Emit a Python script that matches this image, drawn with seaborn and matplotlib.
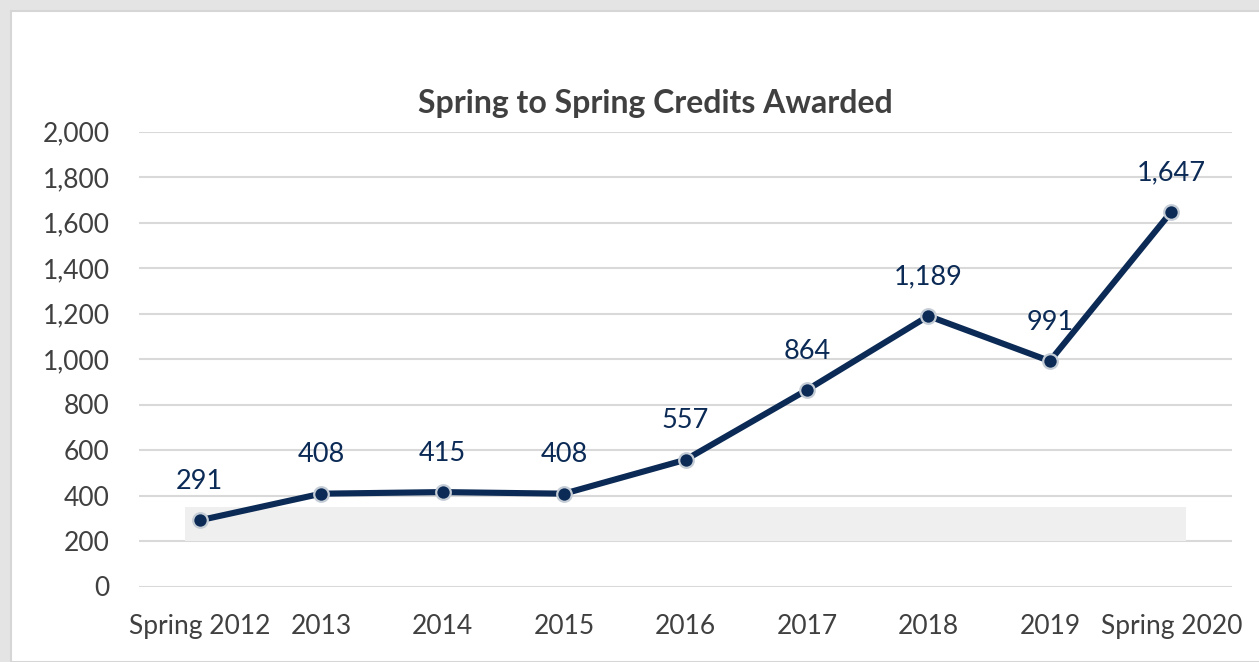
import matplotlib
matplotlib.use("Agg")
import matplotlib.pyplot as plt
import seaborn as sns
import pandas as pd
from matplotlib.patches import Rectangle

# chart values
years = ["Spring 2012", "2013", "2014", "2015", "2016", "2017", "2018", "2019", "Spring 2020"]
credits = [291, 408, 415, 408, 557, 864, 1189, 991, 1647]
y_ticks = [0, 200, 400, 600, 800, 1000, 1200, 1400, 1600, 1800, 2000]

df = pd.DataFrame({"year": years, "credits": credits})

sns.set_theme(style="white")
plt.rcParams["font.family"] = ["Lato", "DejaVu Sans"]

navy = "#0b2a55"
grey_txt = "#404040"

fig = plt.figure(figsize=(12.59, 6.62), dpi=100)
fig.patch.set_facecolor("#e4e4e4")
# white chart card with a light shadow edge
fig.patches.append(Rectangle((11 / 1259, 0), 1, 1 - 11 / 662, transform=fig.transFigure,
                             facecolor="white", edgecolor="#d6d6d6", lw=1.5, zorder=-5))

ax = fig.add_axes([139 / 1259, 1 - 586.5 / 662, (1232 - 139) / 1259, (586.5 - 131.5) / 662])
ax.set_facecolor("none")

x = list(range(len(years)))
sns.lineplot(x=x, y=df["credits"], ax=ax, color=navy, lw=4.4, marker="o", markersize=10.5,
             markerfacecolor=navy, markeredgecolor="#c4ccd6", markeredgewidth=1.6, zorder=5)

# faint grey band seen behind the lower part of the line
ax.add_patch(Rectangle((-0.12, 200), 8.24, 150, facecolor="#efefef", edgecolor="none", zorder=1))

for xi, v in zip(x, credits):
    ax.annotate(f"{v:,}", (xi, v), xytext=(0, 19), textcoords="offset points",
                ha="center", va="bottom", fontsize=19.5, color=navy, zorder=6)

ax.set_xlim(-0.5, len(years) - 0.5)
ax.set_ylim(0, 2000)
ax.set_yticks(y_ticks)
ax.set_yticklabels([f"{t:,}" for t in y_ticks])
ax.set_xticks(x)
ax.set_xticklabels(years)
ax.yaxis.grid(True, color="#d9d9d9", lw=1.5, zorder=0)
ax.set_axisbelow(True)
for s in ax.spines.values():
    s.set_visible(False)
ax.tick_params(axis="both", length=0, labelsize=19, labelcolor=grey_txt)
ax.tick_params(axis="y", pad=21)
ax.tick_params(axis="x", pad=20)
ax.set_xlabel("")
ax.set_ylabel("")

fig.text(655 / 1259, 1 - 104 / 662, "Spring to Spring Credits Awarded", ha="center", va="center",
         fontsize=23, fontweight="bold", color=grey_txt)

fig.savefig("out.png", dpi=100, facecolor=fig.get_facecolor())
